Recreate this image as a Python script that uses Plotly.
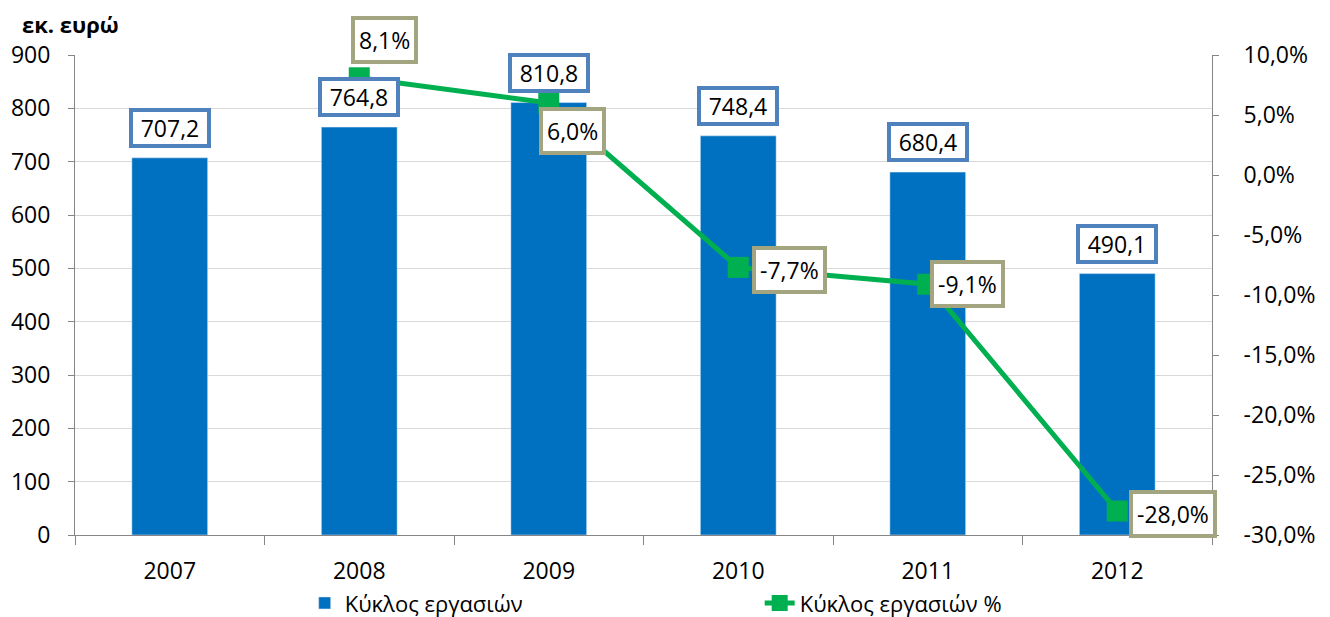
import plotly.graph_objects as go

# Δεδομένα
years = ['2007', '2008', '2009', '2010', '2011', '2012']
turnover = [707.2, 764.8, 810.8, 748.4, 680.4, 490.1]
change_pct = [None, 8.1, 6.0, -7.7, -9.1, -28.0]

left_ticks = [0, 100, 200, 300, 400, 500, 600, 700, 800, 900]
right_ticks = [-30, -25, -20, -15, -10, -5, 0, 5, 10]
right_tick_text = ['-30,0%', '-25,0%', '-20,0%', '-15,0%', '-10,0%', '-5,0%', '0,0%', '5,0%', '10,0%']

FONT = 'Open Sans, Noto Sans, sans-serif'
BAR_COLOR = '#0070C0'
LINE_COLOR = '#00B050'
AXIS_COLOR = '#868686'
GRID_COLOR = '#D9D9D9'


def fmt(v, pct=False):
    s = f'{v:.1f}'.replace('.', ',')
    return s + '%' if pct else s


fig = go.Figure()

fig.add_trace(go.Bar(
    x=years,
    y=turnover,
    name='Κύκλος εργασιών',
    marker_color=BAR_COLOR,
    width=0.4,
))

fig.add_trace(go.Scatter(
    x=years,
    y=change_pct,
    name='Κύκλος εργασιών %',
    mode='lines+markers',
    yaxis='y2',
    line=dict(color=LINE_COLOR, width=5),
    marker=dict(symbol='square', size=21, color=LINE_COLOR),
))

# ετικέτες τιμών πάνω από τις μπάρες (x = θέση κατηγορίας)
for i, v in enumerate(turnover):
    fig.add_annotation(
        x=i, y=v, yref='y', text=fmt(v),
        showarrow=False, yanchor='bottom', yshift=10,
        width=70, height=28, borderpad=2,
        bordercolor='#4F81BD', borderwidth=4, bgcolor='white',
        font=dict(size=23, color='black', family=FONT),
    )

# θέσεις ετικετών της γραμμής (xanchor, yanchor, xshift, yshift)
pct_label_pos = [
    None,
    ('left', 'bottom', -8, 14),
    ('left', 'top', -10, -4),
    ('left', 'middle', 14, -3),
    ('left', 'middle', 2, 0),
    ('left', 'middle', 12, -3),
]
for i, (p, pos) in enumerate(zip(change_pct, pct_label_pos)):
    if p is None:
        continue
    xa, ya, xs, ys = pos
    fig.add_annotation(
        x=i, y=p, yref='y2', text=fmt(p, pct=True),
        showarrow=False, xanchor=xa, yanchor=ya, xshift=xs, yshift=ys,
        borderpad=4, bordercolor='#A2A57F', borderwidth=4, bgcolor='white',
        font=dict(size=23, color='black', family=FONT),
    )

fig.add_annotation(
    x=-0.048, y=1.1, xref='paper', yref='paper', xanchor='left', yanchor='top',
    text='<b>εκ. ευρώ</b>', showarrow=False,
    font=dict(size=22, color='black', family=FONT),
)

# η σελίδα έχει περιθώριο 8px, οπότε το σχήμα είναι 8px μικρότερο
fig.update_layout(
    width=1322, height=609,
    margin=dict(l=67, r=118, t=47, b=82, autoexpand=False),
    plot_bgcolor='white', paper_bgcolor='white',
    font=dict(family=FONT, size=23, color='black'),
    separators=',.',
    xaxis=dict(
        type='category', range=[-0.5, len(years) - 0.5],
        showline=True, linecolor=AXIS_COLOR, linewidth=1,
        ticks='outside', tickson='boundaries', ticklen=9, tickcolor=AXIS_COLOR,
        ticklabelstandoff=15, showgrid=False,
    ),
    yaxis=dict(
        range=[0, 900], tickvals=left_ticks,
        showline=True, linecolor=AXIS_COLOR, linewidth=1,
        ticks='outside', ticklen=6, tickcolor=AXIS_COLOR, ticklabelstandoff=13,
        gridcolor=GRID_COLOR, gridwidth=1, zeroline=False,
    ),
    yaxis2=dict(
        overlaying='y', side='right',
        range=[-30, 10], tickvals=right_ticks, ticktext=right_tick_text,
        showline=True, linecolor=AXIS_COLOR, linewidth=1,
        ticks='outside', ticklen=6, tickcolor=AXIS_COLOR, ticklabelstandoff=20,
        showgrid=False, zeroline=False,
    ),
    legend=dict(
        orientation='h', x=0.202, y=-0.142, xanchor='left', yanchor='middle',
        entrywidth=410, font=dict(size=22),
    ),
    showlegend=True,
)

fig.write_html('out.html')
